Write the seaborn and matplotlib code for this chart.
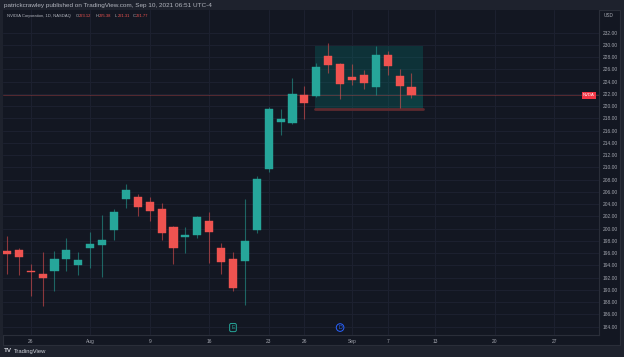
import matplotlib.pyplot as plt
import matplotlib.patches as mpatches
import matplotlib.transforms as mtransforms
import numpy as np
import pandas as pd
import seaborn as sns

# NVDA daily candles
dates = ["2021-07-22", "2021-07-23", "2021-07-26", "2021-07-27", "2021-07-28", "2021-07-29",
         "2021-07-30", "2021-08-02", "2021-08-03", "2021-08-04", "2021-08-05", "2021-08-06",
         "2021-08-09", "2021-08-10", "2021-08-11", "2021-08-12", "2021-08-13", "2021-08-16",
         "2021-08-17", "2021-08-18", "2021-08-19", "2021-08-20", "2021-08-23", "2021-08-24",
         "2021-08-25", "2021-08-26", "2021-08-27", "2021-08-30", "2021-08-31", "2021-09-01",
         "2021-09-02", "2021-09-03", "2021-09-07", "2021-09-08", "2021-09-09"]
opens = [196.4, 196.5, 193.1, 192.6, 193.1, 195.1, 194.0, 196.9, 197.3, 199.8, 204.9, 205.2,
         204.3, 203.2, 200.3, 198.6, 198.9, 201.3, 196.8, 195.0, 194.8, 199.8, 209.7, 217.4,
         217.3, 221.9, 221.7, 228.25, 226.9, 224.8, 225.1, 223.1, 228.3, 225.0, 223.12]
highs = [198.8, 196.9, 194.3, 196.2, 196.4, 198.5, 196.2, 199.5, 202.2, 203.2, 207.3, 205.7,
         205.1, 204.2, 200.4, 200.2, 202.1, 202.8, 197.6, 196.2, 204.85, 208.65, 219.9, 219.5,
         224.65, 223.3, 227.1, 230.4, 227.0, 226.9, 225.9, 229.8, 229.0, 226.1, 225.38]
lows = [192.6, 192.4, 189.0, 187.3, 189.9, 193.1, 192.5, 193.5, 192.1, 198.2, 203.3, 202.0,
        201.3, 198.2, 194.2, 196.1, 198.4, 194.45, 192.55, 189.9, 187.5, 199.25, 209.3, 215.25,
        217.1, 217.9, 221.55, 225.4, 221.2, 223.5, 222.8, 221.8, 225.1, 219.65, 221.31]
closes = [195.9, 195.4, 192.9, 191.9, 195.0, 196.5, 194.95, 197.5, 198.1, 202.7, 206.3, 203.6,
          202.9, 199.3, 196.9, 198.9, 201.9, 199.4, 194.5, 190.3, 198.0, 208.1, 219.5, 217.85,
          222.0, 220.6, 226.35, 226.8, 223.7, 224.3, 223.85, 228.4, 226.5, 223.3, 221.77]

tick_dates = ["2021-07-26", "2021-08-02", "2021-08-09", "2021-08-16", "2021-08-23", "2021-08-26",
              "2021-09-01", "2021-09-07", "2021-09-13", "2021-09-20", "2021-09-27"]
tick_labels = ["26", "Aug", "9", "16", "23", "26", "Sep", "7", "13", "20", "27"]
price_ticks = list(range(184, 233, 2))

box_dates = ["2021-08-27", "2021-09-10"]
box_prices = [219.5, 229.9]
last_price = 221.77
events = {"2021-08-18": ("E", "#26a69a"), "2021-08-31": ("D", "#2962ff")}

BG = "#131722"
OUTER = "#1e222d"
BORDER = "#2a2e39"
GRID = "#1d2130"
TEXT = "#a3a6af"
UP = "#26a69a"
DOWN = "#ef5350"


def main():
    # trading calendar (Labor Day off), bars are placed by position in it
    cal = pd.bdate_range("2021-07-22", "2021-10-01")
    cal = cal[cal != pd.Timestamp("2021-09-06")]
    pos = {d: i for i, d in enumerate(cal)}

    df = pd.DataFrame({"date": pd.to_datetime(dates), "open": opens, "high": highs,
                       "low": lows, "close": closes})
    df["x"] = df["date"].map(pos)
    df["up"] = df["close"] >= df["open"]

    sns.set_theme(style="dark", rc={"axes.facecolor": BG, "figure.facecolor": OUTER,
                                    "grid.color": GRID, "text.color": TEXT,
                                    "xtick.color": TEXT, "ytick.color": TEXT})
    plt.rcParams["font.family"] = ["Liberation Sans", "DejaVu Sans"]

    fig = plt.figure(figsize=(6.24, 3.57), dpi=100)
    W, H = 624.0, 357.0
    # chart frame behind the axes
    fig.patches.append(mpatches.Rectangle((3 / W, 1 - 345 / H), 617 / W, 335.5 / H,
                                          transform=fig.transFigure, facecolor=BG,
                                          edgecolor=BORDER, linewidth=0.8, zorder=-5))
    ax = fig.add_axes([3.3 / W, 1 - 334.7 / H, 595.4 / W, 325.2 / H])
    ax.set_zorder(2)
    ax.set_facecolor(BG)

    ax.set_xlim(-0.30, 49.73)
    ax.set_ylim(182.69, 235.79)

    ax.set_yticks(price_ticks)
    ax.set_yticklabels([f"{p:.2f}" for p in price_ticks])
    ax.yaxis.tick_right()
    ax.set_xticks([pos[pd.Timestamp(d)] for d in tick_dates])
    ax.set_xticklabels(tick_labels)
    ax.tick_params(axis="both", length=0, labelsize=3.5, colors=TEXT)
    ax.tick_params(axis="y", pad=3)
    ax.tick_params(axis="x", pad=3)
    ax.grid(True, color=GRID, linewidth=0.7)
    for s in ["top", "left"]:
        ax.spines[s].set_visible(False)
    for s in ["right", "bottom"]:
        ax.spines[s].set_color(BORDER)
        ax.spines[s].set_linewidth(0.8)

    # box drawn on the chart
    bx0 = pos[pd.Timestamp(box_dates[0])] - 0.1
    bx1 = pos[pd.Timestamp(box_dates[1])] - 0.05
    ax.add_patch(mpatches.Rectangle((bx0, box_prices[0]), bx1 - bx0, box_prices[1] - box_prices[0],
                                    facecolor=(0.0, 0.59, 0.53, 0.22), edgecolor="none", zorder=1))
    ax.add_patch(mpatches.Rectangle((bx1 - 1.95, box_prices[0]), 1.95, 2.2,
                                    facecolor=(0.0, 0.59, 0.53, 0.12), edgecolor="none", zorder=1))
    ax.plot([bx0, bx1], [box_prices[0] + 0.1] * 2, color="#5c2a2f", linewidth=2.0, zorder=1)

    # last price line
    ax.axhline(last_price, color=DOWN, alpha=0.3, linewidth=0.7, zorder=1)

    # candles
    for up, grp in df.groupby("up"):
        col = UP if up else DOWN
        ax.vlines(grp["x"], grp["low"], grp["high"], color=col, alpha=0.55,
                  linewidth=0.8, zorder=2)
        body_lo = np.minimum(grp["open"], grp["close"])
        body_h = np.maximum(np.abs(grp["close"] - grp["open"]), 0.18)
        ax.bar(grp["x"], body_h, bottom=body_lo, width=0.68, color=col,
               edgecolor=col, linewidth=0.3, zorder=3)

    # event markers at the bottom
    trans = mtransforms.blended_transform_factory(ax.transData, ax.transAxes)
    for d, (lab, col) in events.items():
        style = "round,pad=0.3" if lab == "E" else "circle,pad=0.25"
        ax.text(pos[pd.Timestamp(d)], 0.022, lab, transform=trans, ha="center", va="center",
                fontsize=3.8, color=col, zorder=4,
                bbox=dict(boxstyle=style, facecolor=BG, edgecolor=col, linewidth=0.7))

    # symbol tag on the price line
    ax.text(49.4, last_price, "NVDA", ha="right", va="center", fontsize=3.0,
            color="white", zorder=5,
            bbox=dict(boxstyle="square,pad=0.35", facecolor="#f23645", edgecolor="none"))

    # header texts
    fig.text(4 / W, 1 - 5 / H, "patrickcrawley published on TradingView.com, Sep 10, 2021 06:51 UTC-4",
             fontsize=4.6, color="#b2b5be", va="center", ha="left")
    fig.text(7 / W, 1 - 15.7 / H, "NVIDIA Corporation, 1D, NASDAQ", fontsize=3.0,
             color="#b2b5be", va="center", ha="left")
    xs = [76, 96, 115, 133]
    for x, k, v in zip(xs, "OHLC", [opens[-1], highs[-1], lows[-1], closes[-1]]):
        fig.text(x / W, 1 - 15.7 / H, k, fontsize=3.0, color="#b2b5be", va="center", ha="left")
        fig.text((x + 2.6) / W, 1 - 15.7 / H, f"{v:.2f}", fontsize=3.0, color=DOWN,
                 va="center", ha="left")
    fig.text(609 / W, 1 - 15.5 / H, "USD", fontsize=3.4, color=TEXT, ha="center", va="center")

    # footer logo
    fig.text(4 / W, 1 - 351 / H, "TV", fontsize=4.5, color="#d1d4dc", weight="bold",
             va="center", ha="left")
    fig.text(14 / W, 1 - 351 / H, "TradingView", fontsize=4.2, color="#d1d4dc",
             va="center", ha="left")

    fig.savefig("out.png", dpi=100, facecolor=OUTER)


if __name__ == "__main__":
    main()
